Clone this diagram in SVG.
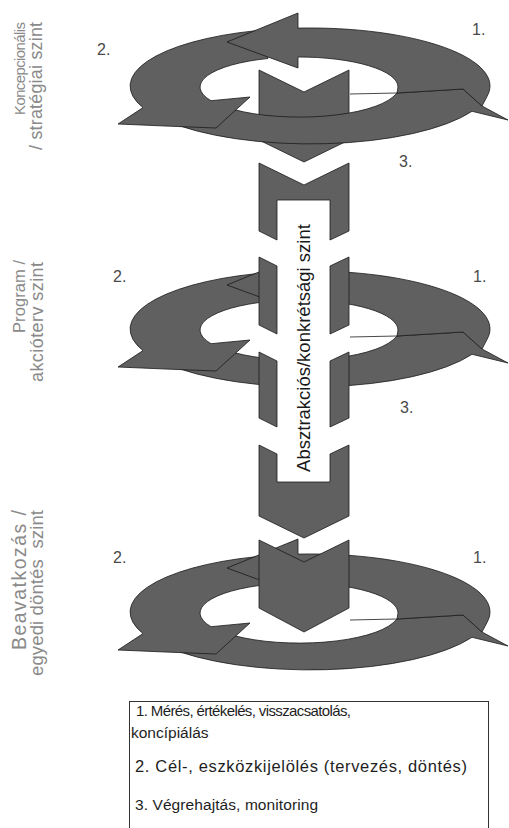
<svg xmlns="http://www.w3.org/2000/svg" xmlns:xlink="http://www.w3.org/1999/xlink" width="509" height="828" viewBox="0 0 509 828">
<style>
.arr{fill:#606060;stroke:#1a1a1a;stroke-width:0.8;stroke-linejoin:miter}
.thin{fill:none;stroke:#1a1a1a;stroke-width:0.8}
.num{font-family:"Liberation Sans",Arial,sans-serif;font-size:16px;fill:#4a4a4a}
.side{font-family:"Liberation Sans",Arial,sans-serif;fill:#8a8a8a}
.band{font-family:"Liberation Sans",Arial,sans-serif;font-size:18.5px;fill:#1a1a1a}
.leg{font-family:"Liberation Sans",Arial,sans-serif;fill:#1e1e1e}
</style>
<defs>
<g id="ring">
<path class="arr" d="M165,120.2 A180,58 0 0 0 472,111.3 L508,120 L482,106 L463,89 L397,93 L393,96.9 A99,30 0 0 1 234,109.6 Z"/>
<path class="arr" d="M256,30.7 A180,58 0 0 0 143,107.6 L118,124 L165,126 L216,128 L250,97 L211,100.7 A99,30 0 0 1 268,58.5 Z"/>
<path class="arr" d="M227,42 L298,13 L298,28.1 A180,58 0 0 1 487,96.5 L482,106 L463,89 L397,93 L398,87 A99,30 0 0 0 298,57 L298,68 Z"/>
<path class="thin" d="M350,94 L397,93"/>
</g>
</defs>
<rect width="509" height="828" fill="#ffffff"/>

<g id="chevron-strategic">
<polygon class="arr" points="259,70 304,92 349,70 349,140 304,162 259,140"/>
</g>
<g id="ring-strategic">
<use xlink:href="#ring"/>
</g>
<g id="ring-program">
<use xlink:href="#ring" transform="translate(0,243)"/>
</g>
<g id="abstraction-band">
<rect x="259" y="163" width="90" height="300" fill="#ffffff"/>
<polygon class="arr" points="259,163 304,185 349,163 349,231 330,240 330,200 277,200 277,240 259,231"/>
<polygon class="arr" points="259,257 277,266 277,334 259,325"/>
<polygon class="arr" points="349,257 330,266 330,334 349,325"/>
<polygon class="arr" points="259,352 277,361 277,427 259,418"/>
<polygon class="arr" points="349,352 330,361 330,427 349,418"/>
<polygon class="arr" points="259,445 277,454 277,482 330,482 330,454 349,445 349,516 304,538 259,516"/>
<text class="band" transform="translate(310,348) rotate(-90)" text-anchor="middle">Absztrakciós/konkrétsági szint</text>
</g>
<g id="ring-intervention">
<use xlink:href="#ring" transform="translate(0,526)"/>
</g>
<g id="chevron-intervention">
<polygon class="arr" points="259,540 304,562 349,540 349,608 304,632 259,608"/>
</g>

<g id="step-labels">
<text class="num" x="472" y="35">1.</text>
<text class="num" x="97" y="55">2.</text>
<text class="num" x="399" y="167">3.</text>
<text class="num" x="473" y="282">1.</text>
<text class="num" x="113" y="282">2.</text>
<text class="num" x="400" y="413">3.</text>
<text class="num" x="473" y="563">1.</text>
<text class="num" x="113" y="563">2.</text>
</g>

<g id="level-labels">
<text class="side" transform="rotate(-90)" text-anchor="end" x="-22" y="25" font-size="15" textLength="93" lengthAdjust="spacing">Koncepcionális</text>
<text class="side" transform="rotate(-90)" text-anchor="end" x="-22" y="42" font-size="17.8" textLength="128" lengthAdjust="spacing">/ stratégiai szint</text>
<text class="side" transform="rotate(-90)" text-anchor="end" x="-260" y="25" font-size="16.5" textLength="73" lengthAdjust="spacing">Program /</text>
<text class="side" transform="rotate(-90)" text-anchor="end" x="-262" y="43" font-size="18" textLength="120" lengthAdjust="spacing">akcióterv szint</text>
<text class="side" transform="rotate(-90)" text-anchor="end" x="-510" y="26" font-size="19.5" textLength="140" lengthAdjust="spacing">Beavatkozás /</text>
<text class="side" transform="rotate(-90)" text-anchor="end" x="-510" y="43" font-size="18.5" textLength="166" lengthAdjust="spacing" xml:space="preserve">egyedi döntés  szint</text>
</g>

<g id="legend">
<rect x="129.5" y="701.5" width="359" height="140" fill="#ffffff" stroke="#333333" stroke-width="1"/>
<text class="leg" x="136" y="716" font-size="15" textLength="215" lengthAdjust="spacing">1. Mérés, értékelés, visszacsatolás,</text>
<text class="leg" x="131" y="738" font-size="15.5">koncípiálás</text>
<text class="leg" x="135" y="772" font-size="16.5" textLength="332" lengthAdjust="spacing">2. Cél-, eszközkijelölés (tervezés, döntés)</text>
<text class="leg" x="135" y="810" font-size="15.5" textLength="183" lengthAdjust="spacing">3. Végrehajtás, monitoring</text>
</g>
</svg>
